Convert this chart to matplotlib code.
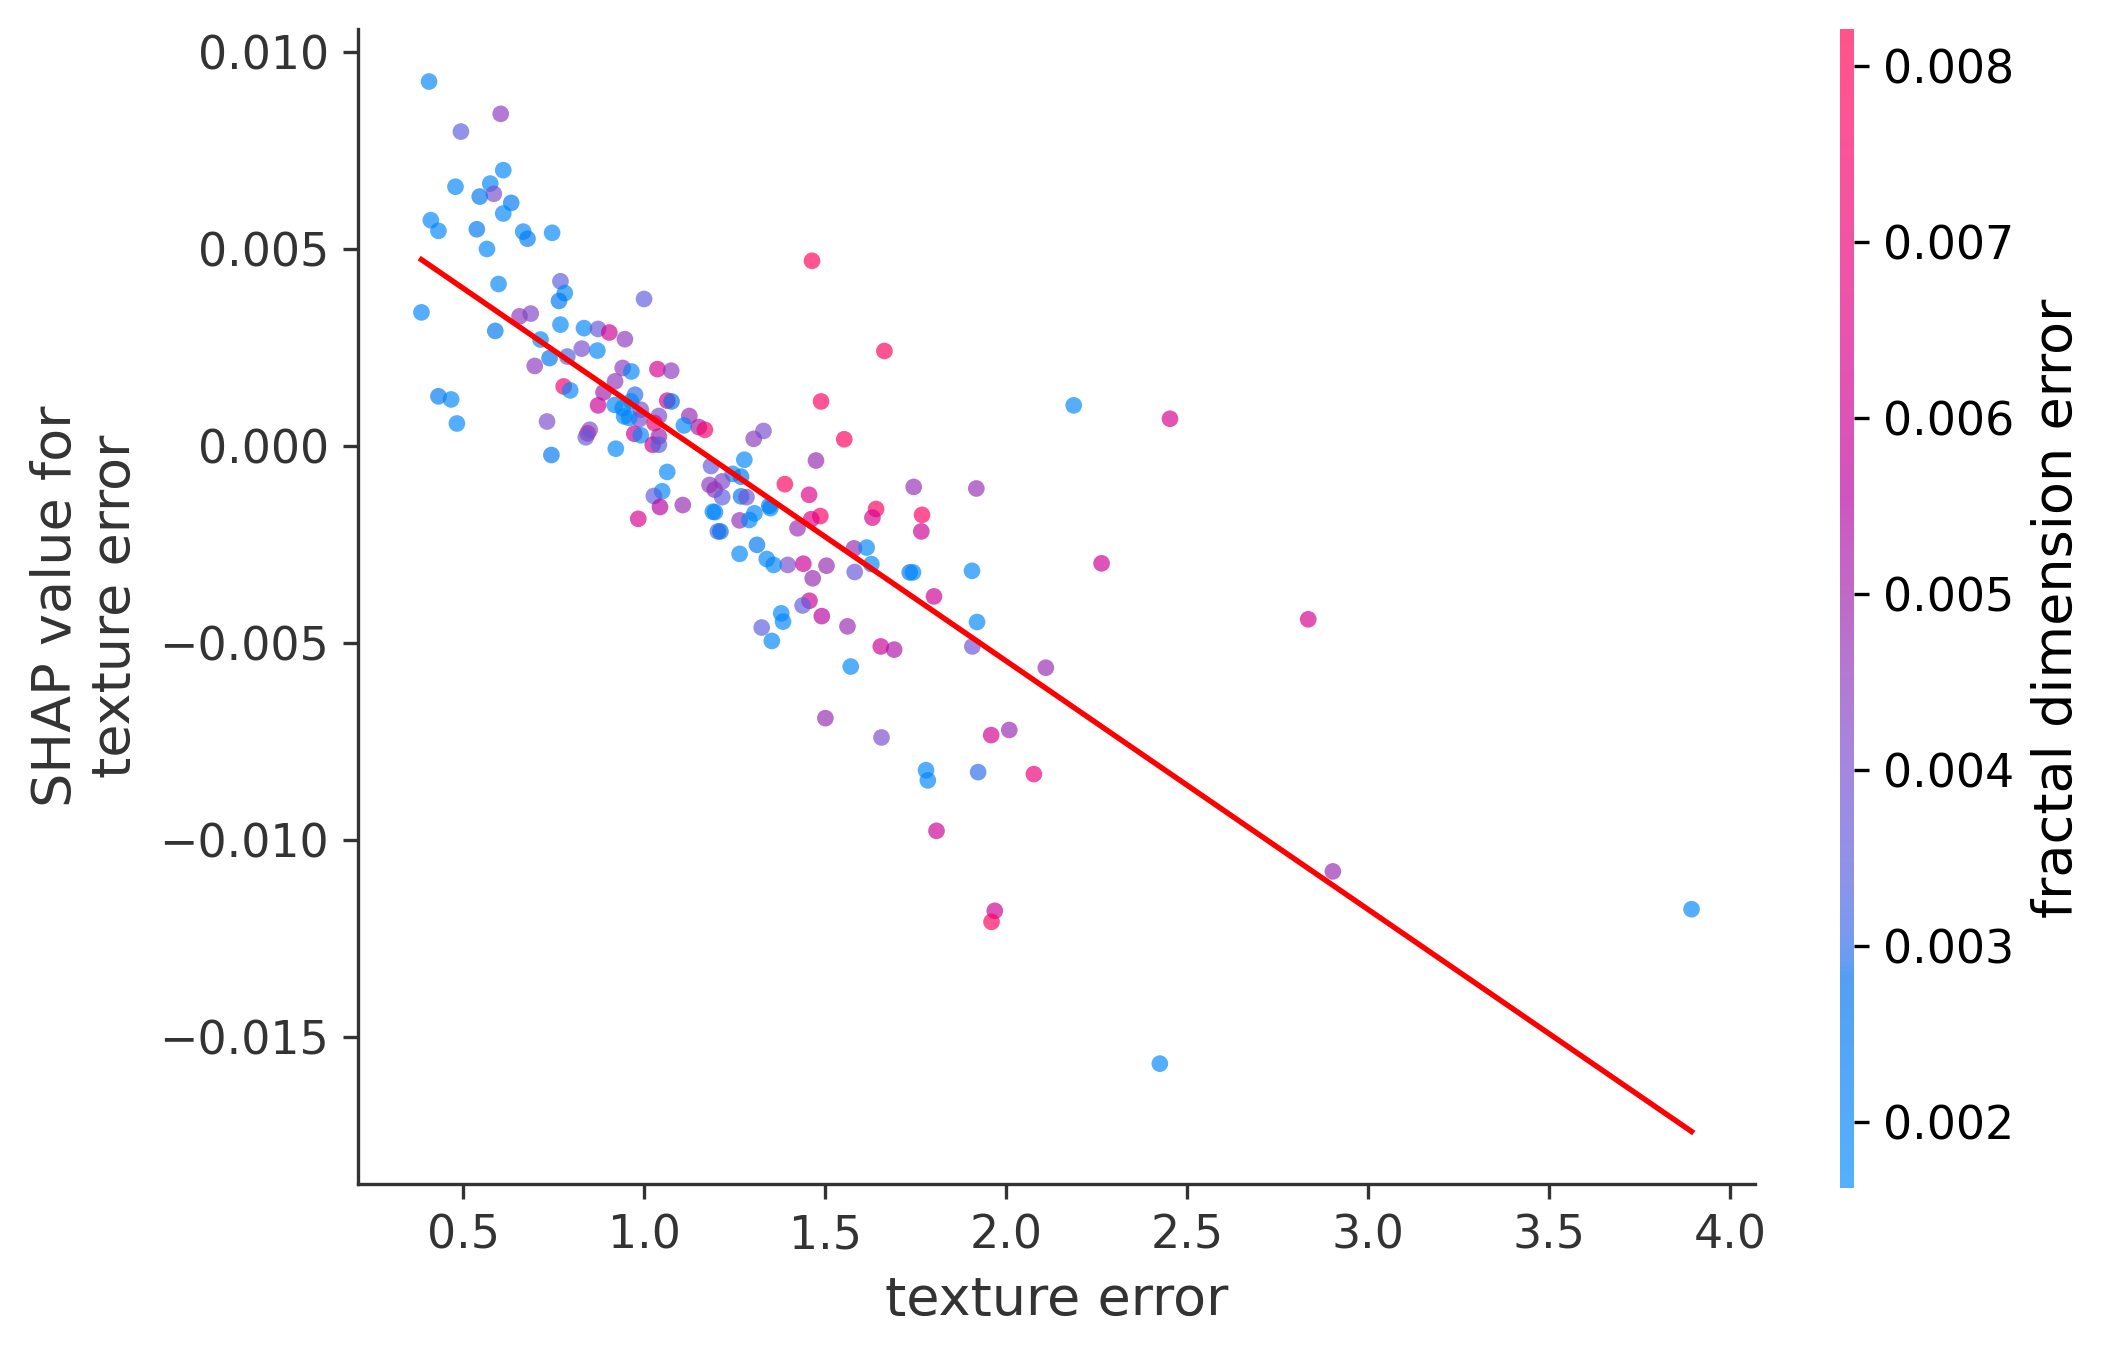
import numpy as np
import matplotlib
matplotlib.use("Agg")
import matplotlib.pyplot as plt
from matplotlib.colors import LinearSegmentedColormap

# feature value on the x axis
texture_error = [
    0.405, 0.603, 0.493, 0.610, 0.478, 0.574, 0.584, 0.545, 0.632, 0.610,
    0.410, 0.431, 0.537, 0.665, 0.677, 0.745, 0.565, 0.597, 0.384, 0.588,
    0.768, 0.780, 0.764, 0.999, 0.655, 0.686, 0.768, 0.833, 0.872, 0.903,
    0.946, 0.713, 0.827, 0.870, 0.738, 0.787, 0.697, 0.431, 0.466, 0.482,
    0.731, 0.743, 0.921, 0.777, 0.795, 0.940, 0.964, 1.036, 1.074, 0.919,
    0.887, 0.872, 0.918, 0.974, 0.963, 0.944, 0.986, 0.990, 1.040, 1.028,
    1.063, 1.075, 1.124, 1.150, 1.167, 1.109, 0.972, 0.990, 1.023, 1.040,
    1.040, 0.843, 0.849, 0.838, 1.302, 1.276, 0.940, 0.958,
    1.463, 1.663, 1.488, 1.552, 1.329, 1.474, 1.744, 1.917, 1.388, 1.455,
    1.640, 1.630, 1.767, 1.765, 1.486, 1.461, 1.423, 1.579, 1.614, 1.627,
    1.581, 1.733, 1.742, 1.905, 1.800, 1.919, 1.906, 1.439, 1.503, 1.396,
    1.465, 1.357, 1.338, 1.311, 1.263, 1.456, 1.437, 1.378, 1.383, 1.324,
    1.352, 1.490, 1.561, 1.653, 1.690, 1.570,
    1.184, 1.244, 1.267, 1.063, 1.180, 1.215, 1.194, 1.215, 1.267, 1.282,
    1.049, 1.026, 1.043, 1.106, 0.983, 1.189, 1.195, 1.263, 1.290, 1.304,
    1.203, 1.210, 1.348, 1.345,
    2.186, 2.452, 2.263, 2.109, 2.834, 1.958, 2.008, 1.778, 1.783, 1.922,
    2.076, 1.500, 1.655, 1.807, 1.968, 1.959, 2.902, 2.424, 3.893,
]

# SHAP value for texture error, in units of 1e-3
shap_milli = [
    9.25, 8.43, 7.98, 7.00, 6.58, 6.66, 6.40, 6.33, 6.17, 5.90,
    5.73, 5.46, 5.50, 5.44, 5.26, 5.41, 5.00, 4.11, 3.39, 2.92,
    4.18, 3.88, 3.68, 3.73, 3.29, 3.36, 3.08, 2.99, 2.97, 2.88,
    2.71, 2.70, 2.47, 2.42, 2.23, 2.27, 2.03, 1.26, 1.18, 0.57,
    0.62, -0.23, -0.07, 1.51, 1.41, 1.98, 1.89, 1.95, 1.91, 1.64,
    1.36, 1.03, 1.04, 1.30, 1.13, 0.75, 0.68, 0.92, 0.76, 0.58,
    1.15, 1.13, 0.76, 0.48, 0.41, 0.52, 0.31, 0.27, 0.03, 0.24,
    0.03, 0.32, 0.41, 0.22, 0.18, -0.35, 0.96, 0.71,
    4.70, 2.41, 1.13, 0.17, 0.38, -0.37, -1.04, -1.08, -0.97, -1.24,
    -1.60, -1.82, -1.75, -2.17, -1.78, -1.86, -2.09, -2.60, -2.58, -3.00,
    -3.20, -3.21, -3.21, -3.17, -3.82, -4.47, -5.09, -2.99, -3.04, -3.02,
    -3.36, -3.02, -2.87, -2.51, -2.74, -3.93, -4.05, -4.25, -4.46, -4.61,
    -4.95, -4.32, -4.58, -5.09, -5.17, -5.60,
    -0.51, -0.71, -0.78, -0.66, -0.99, -0.90, -1.11, -1.30, -1.28, -1.30,
    -1.15, -1.27, -1.55, -1.50, -1.85, -1.67, -1.68, -1.89, -1.88, -1.71,
    -2.17, -2.17, -1.58, -1.52,
    1.03, 0.69, -2.98, -5.63, -4.40, -7.34, -7.21, -8.23, -8.49, -8.28,
    -8.33, -6.91, -7.40, -9.77, -11.80, -12.08, -10.80, -15.68, -11.76,
]

# interaction feature (fractal dimension error), in units of 1e-3
fractal_milli = [
    1.8, 4.5, 3.5, 1.8, 1.8, 1.8, 4.0, 2.5, 2.5, 1.8,
    1.8, 1.8, 2.5, 1.8, 2.3, 1.8, 1.8, 1.8, 1.8, 2.5,
    3.5, 1.8, 2.5, 3.5, 4.5, 4.2, 1.8, 1.8, 3.7, 6.0,
    4.5, 1.8, 4.0, 1.8, 2.5, 3.3, 4.5, 2.5, 1.8, 1.8,
    4.0, 2.5, 1.8, 7.5, 1.8, 4.5, 1.8, 6.2, 4.5, 4.5,
    5.0, 6.0, 1.8, 3.0, 1.8, 1.8, 4.0, 4.0, 4.0, 7.0,
    6.5, 2.8, 4.8, 5.2, 7.5, 1.8, 6.0, 1.8, 6.0, 5.0,
    3.3, 7.5, 4.0, 3.5, 4.5, 1.8, 1.8, 1.8,
    7.9, 7.8, 7.7, 7.8, 4.0, 4.8, 4.7, 4.7, 7.8, 6.5,
    7.8, 6.3, 7.8, 6.0, 7.7, 6.5, 4.7, 4.8, 1.8, 1.8,
    3.7, 2.5, 1.8, 1.8, 6.0, 1.8, 3.8, 6.0, 4.8, 4.0,
    4.8, 1.8, 1.8, 2.5, 1.8, 6.0, 3.5, 1.8, 1.8, 3.5,
    1.8, 5.5, 4.8, 6.0, 5.3, 1.8,
    3.5, 1.8, 2.5, 1.8, 4.5, 4.2, 4.7, 3.5, 2.5, 3.8,
    1.8, 3.5, 5.5, 4.8, 6.3, 1.8, 1.8, 4.7, 1.8, 1.8,
    3.3, 2.8, 1.8, 2.3,
    1.8, 6.2, 6.0, 4.8, 6.2, 6.2, 4.8, 1.8, 1.8, 3.0,
    7.0, 4.8, 4.0, 6.0, 6.0, 7.8, 4.8, 1.8, 1.8,
]

# linear trend line and colour limits (5th/95th percentile of the colour feature)
trend_slope = -6.307e-3
trend_intercept = 7.151e-3
color_min = 0.001625
color_max = 0.00821
cbar_ticks = [0.002, 0.003, 0.004, 0.005, 0.006, 0.007, 0.008]


def lch_to_rgb(l, c, h):
    a, b = c * np.cos(h), c * np.sin(h)
    fy = (l + 16) / 116
    f = np.array([fy + a / 500, fy, fy - b / 200])
    xyz = np.where(f > 6 / 29, f ** 3, 3 * (6 / 29) ** 2 * (f - 4 / 29))
    xyz = xyz * np.array([0.95047, 1.0, 1.08883])
    m = np.array([[3.2406, -1.5372, -0.4986],
                  [-0.9689, 1.8758, 0.0415],
                  [0.0557, -0.2040, 1.0570]])
    rgb = m @ xyz
    rgb = np.where(rgb > 0.0031308,
                   1.055 * np.clip(rgb, 1e-9, None) ** (1 / 2.4) - 0.055,
                   12.92 * rgb)
    return np.clip(rgb, 0, 1)


# shap-like red/blue colour map, interpolated in LCh space
nsteps = 100
l_vals = list(np.linspace(54, 40, nsteps // 2)) + list(np.linspace(40, 54, nsteps // 2))
c_vals = np.linspace(70, 90, nsteps)
h_vals = np.linspace(4.6588, 0.35470565 + 2 * np.pi, nsteps)
red_blue = LinearSegmentedColormap.from_list(
    "red_blue", [lch_to_rgb(l, c, h) for l, c, h in zip(l_vals, c_vals, h_vals)])

x = np.array(texture_error)
y = np.array(shap_milli) * 1e-3
col = np.array(fractal_milli) * 1e-3

axis_color = "#333333"

fig = plt.figure(figsize=(2113 / 300, 1357 / 300), dpi=300)
ax = fig.add_axes([0.1694, 0.1275, 0.6612, 0.8511])
cax = fig.add_axes([0.8708, 0.1245, 0.0066, 0.8541])

sc = ax.scatter(x, y, s=16, c=col, cmap=red_blue, vmin=color_min, vmax=color_max,
                alpha=0.67, linewidth=0)

xs = np.array([x.min(), x.max()])
ax.plot(xs, trend_intercept + trend_slope * xs, color="red", linewidth=1.3)

ax.set_xlabel("texture error", fontsize=13, color=axis_color)
ax.set_ylabel("SHAP value for\ntexture error", fontsize=13, color=axis_color)
ax.tick_params(labelsize=11, color=axis_color, labelcolor=axis_color)
for side in ["top", "right"]:
    ax.spines[side].set_visible(False)
for side in ["left", "bottom"]:
    ax.spines[side].set_color(axis_color)
ax.set_yticks([-0.015, -0.010, -0.005, 0.0, 0.005, 0.010])

cb = fig.colorbar(sc, cax=cax, ticks=cbar_ticks)
cb.outline.set_visible(False)
cb.ax.tick_params(labelsize=11)
cb.set_label("fractal dimension error", size=13)

fig.savefig("out.png", dpi=300)
